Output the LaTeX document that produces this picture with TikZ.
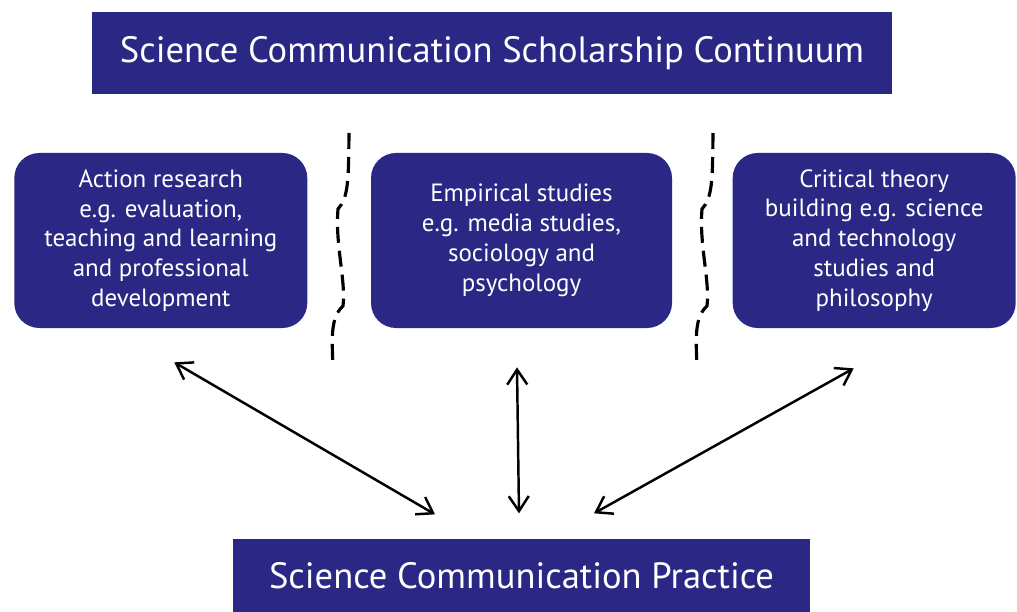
\documentclass[tikz,border=0pt]{standalone}
\usepackage{fontspec}
\setmainfont{PT Sans}
\usetikzlibrary{positioning,arrows.meta}
\definecolor{scblue}{RGB}{42,40,132}

\begin{document}
\begin{tikzpicture}
[
headnode/.style={rectangle, fill=scblue, text=white, minimum height=1.64cm, inner sep=0, font=\fontsize{20.8}{25}\selectfont},
roundnode/.style={rectangle, rounded corners=0.5cm, fill=scblue, text=white, align=center, minimum height=3.5cm, inner sep=0, font=\fontsize{14.2}{17}\selectfont},
divider/.style={line width=1.8pt, dash pattern=on 0.32cm off 0.16cm},
link/.style={<->, line width=1.4pt},
>={Straight Barb[length=3mm,width=4mm]},
node distance=1.2cm
]
\useasboundingbox (0,0) rectangle (20.34,-12.24);
\node[headnode, minimum width=16cm] (continuum) at (9.84,-1.06) {Science Communication Scholarship Continuum};
\node[roundnode, minimum width=6.02cm] (empirical) at (10.43,-4.81) {Empirical studies\\e.g. media studies,\\sociology and\\psychology};
\node[roundnode, minimum width=5.86cm] (action)   [left=1.26cm of empirical] {Action research\\e.g. evaluation,\\teaching and learning\\and professional\\development};
\node[roundnode, minimum width=5.66cm] (critical) [right=1.2cm of empirical] {Critical theory\\building e.g. science\\and technology\\studies and\\philosophy};
\node[headnode, minimum width=11.54cm, minimum height=1.48cm] (practice) [below=4.2cm of empirical] {Science Communication Practice};

% wavy dashed separators
\foreach \shift in {0,7.28}
  \draw[divider, xshift=\shift cm] (6.98,-2.66) .. controls (6.97,-3.6) and (6.97,-3.95) .. (6.76,-4.18)
    .. controls (6.7,-4.9) and (6.92,-5.6) .. (6.86,-6.12)
    .. controls (6.6,-6.35) and (6.64,-6.8) .. (6.66,-7.34);

\coordinate (actionend)    at ([xshift=0.27cm,yshift=-0.68cm]action.south);
\coordinate (empiricalend) at ([xshift=-0.09cm,yshift=-0.78cm]empirical.south);
\coordinate (criticalend)  at ([xshift=-0.41cm,yshift=-0.8cm]critical.south);
\coordinate (practiceleft)  at ([xshift=-1.73cm,yshift=0.48cm]practice.north);
\coordinate (practicemid)   at ([xshift=-0.05cm,yshift=0.5cm]practice.north);
\coordinate (practiceright) at ([xshift=1.45cm,yshift=0.5cm]practice.north);
\draw[link] (actionend)    -- (practiceleft);
\draw[link] (empiricalend) -- (practicemid);
\draw[link] (criticalend)  -- (practiceright);
\end{tikzpicture}
\end{document}
